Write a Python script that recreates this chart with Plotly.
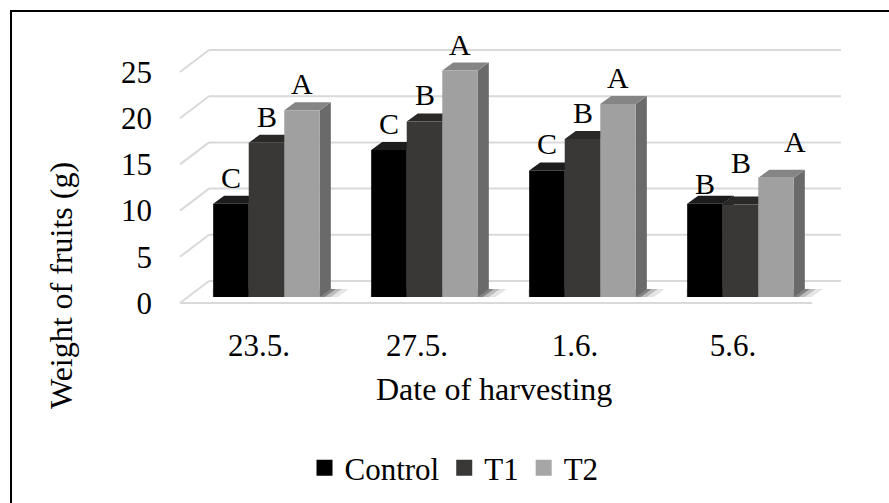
import plotly.graph_objects as go

# ---- data ----
dates = ["23.5.", "27.5.", "1.6.", "5.6."]
control = [10.1, 15.9, 13.7, 10.1]
t1 = [16.7, 19.0, 17.1, 10.0]
t2 = [20.2, 24.5, 20.9, 12.9]
control_letters = ["C", "C", "C", "B"]
t1_letters = ["B", "B", "B", "B"]
t2_letters = ["A", "A", "A", "A"]
y_ticks = [0, 5, 10, 15, 20, 25]

series_names = ["Control", "T1", "T2"]
series_values = [control, t1, t2]
series_letters = [control_letters, t1_letters, t2_letters]

# ---- styles / geometry ----
W, H = 889, 503
FONT = "Liberation Serif"
front_col = ["#000000", "#3a3836", "#a0a0a0"]
top_col = ["#1c1c1c", "#2a2927", "#858585"]
side_col = ["#0a0a0a", "#2c2b29", "#6a6a6a"]
legend_col = ["#000000", "#3a3836", "#a6a6a6"]

# pixel geometry of the plot area
L_PX, R_PX, T_PX, B_PX = 175, 850, 30, 310
PX0, PXU = 259.0, 158.0      # px of category 0, px per category
PY0, PYU = 303.0, 9.24       # px of value 0 (front), px per unit
xr = [(L_PX - PX0) / PXU, (R_PX - PX0) / PXU]
yr = [(PY0 - B_PX) / PYU, (PY0 - T_PX) / PYU]

DX = 29 / PXU      # depth offset of back wall
DY = 22 / PYU
B0 = 6 / PYU       # bar base (bars sit a bit behind the floor front edge)
DXB = 11 / PXU     # bar depth
DYB = 8 / PYU
BW = 0.225
offsets = [-0.29, -0.065, 0.16]
FL, FR = -0.5, 3.5  # floor extent in category units

# label shifts (px) for hand-placed letters: (series, group) -> (dx, dy)
label_shift = {(0, 3): (0, -6), (1, 3): (0, 16), (2, 3): (19, 10)}


def px_x(p):
    return (p - L_PX) / (R_PX - L_PX)


def px_y(p):
    return (B_PX - p) / (B_PX - T_PX)


fig = go.Figure()
shapes = []

# back wall gridlines and left diagonals
gc = "#d9d9d9"
for v in y_ticks:
    shapes.append(dict(type="line", xref="x", yref="y", x0=FL + DX, x1=FR + DX,
                       y0=v + DY, y1=v + DY, line=dict(color=gc, width=2), layer="below"))
    shapes.append(dict(type="line", xref="x", yref="y", x0=FL, x1=FL + DX,
                       y0=v, y1=v + DY, line=dict(color=gc, width=2), layer="below"))
# floor front edge
shapes.append(dict(type="line", xref="x", yref="y", x0=FL, x1=FR, y0=0, y1=0,
                   line=dict(color=gc, width=2), layer="below"))

# floor shadows
for i in range(len(dates)):
    gl = i + offsets[0]
    gr = i + offsets[2] + BW + DXB
    for pad_l, pad_r, op in [(12, 18, 0.10), (7, 11, 0.18), (3, 5, 0.30)]:
        a = gl - pad_l / PXU
        b = gr + pad_r / PXU
        shapes.append(dict(type="path", xref="x", yref="y", layer="below",
                           path=f"M{a + DXB},{B0} L{b - DXB},{B0} L{b},{B0 + DYB} L{a + DXB},{B0 + DYB} Z",
                           fillcolor=f"rgba(0,0,0,{op})", line=dict(width=0)))

# top and side faces of bars
for s, vals in enumerate(series_values):
    for i, v in enumerate(vals):
        x0 = i + offsets[s]
        x1 = x0 + BW
        T = B0 + v
        shapes.append(dict(type="path", xref="x", yref="y", layer="below",
                           path=f"M{x1},{B0} L{x1},{T} L{x1 + DXB},{T + DYB} L{x1 + DXB},{B0 + DYB} Z",
                           fillcolor=side_col[s], line=dict(width=0)))
        shapes.append(dict(type="path", xref="x", yref="y", layer="below",
                           path=f"M{x0},{T} L{x1},{T} L{x1 + DXB},{T + DYB} L{x0 + DXB},{T + DYB} Z",
                           fillcolor=top_col[s], line=dict(width=0)))

# outer border: only left and top edges fall inside the picture
shapes.append(dict(type="line", xref="paper", yref="paper", x0=px_x(11), x1=px_x(11),
                   y0=px_y(H + 20), y1=px_y(10), line=dict(color="black", width=2)))
shapes.append(dict(type="line", xref="paper", yref="paper", x0=px_x(10), x1=px_x(W + 20),
                   y0=px_y(11), y1=px_y(11), line=dict(color="black", width=2)))

# front faces (bars)
for s, (name, vals) in enumerate(zip(series_names, series_values)):
    fig.add_trace(go.Bar(x=list(range(len(dates))), y=vals, base=B0, width=BW,
                         offset=offsets[s], marker=dict(color=front_col[s], line=dict(width=0)),
                         name=name, showlegend=False, hoverinfo="skip"))
    fig.add_trace(go.Scatter(x=[None], y=[None], mode="markers", name=name,
                             marker=dict(symbol="square", size=16, color=legend_col[s])))

# letters
annotations = []
for s, (vals, letters) in enumerate(zip(series_values, series_letters)):
    for i, (v, lt) in enumerate(zip(vals, letters)):
        dx, dy = label_shift.get((s, i), (0, 0))
        annotations.append(dict(x=i + offsets[s] + BW / 2, y=B0 + v + DYB, xref="x", yref="y",
                                text=lt, showarrow=False, yanchor="bottom", xanchor="center",
                                xshift=dx, yshift=dy, font=dict(family=FONT, size=30, color="black")))

annotations.append(dict(x=px_x(494), y=px_y(389), xref="paper", yref="paper",
                        xanchor="center", yanchor="middle",
                        text="Date of harvesting", showarrow=False,
                        font=dict(family=FONT, size=32, color="black")))
annotations.append(dict(x=px_x(61), y=px_y(286), xref="paper", yref="paper",
                        xanchor="center", yanchor="middle",
                        text="Weight of fruits (g)", textangle=-90, showarrow=False,
                        font=dict(family=FONT, size=32, color="black")))

fig.update_layout(
    width=W, height=H,
    margin=dict(l=L_PX, r=W - R_PX, t=T_PX, b=H - B_PX, autoexpand=False),
    paper_bgcolor="white", plot_bgcolor="white",
    font=dict(family=FONT, size=31, color="black"),
    shapes=shapes, annotations=annotations,
    barmode="overlay",
    xaxis=dict(range=xr, tickvals=list(range(len(dates))), ticktext=dates, showgrid=False,
               zeroline=False, showline=False, ticks="", ticklabelstandoff=14,
               tickfont=dict(family=FONT, size=31), fixedrange=True),
    yaxis=dict(range=yr, tickvals=y_ticks, showgrid=False, zeroline=False, showline=False,
               ticks="", ticklabelstandoff=22, tickfont=dict(family=FONT, size=31), fixedrange=True),
    legend=dict(orientation="h", x=px_x(454), y=px_y(468), xanchor="center", yanchor="middle",
                font=dict(family=FONT, size=31), bgcolor="rgba(0,0,0,0)", itemclick=False,
                tracegroupgap=0),
    showlegend=True,
)

fig.write_html(
    "out.html",
    config={"displayModeBar": False},
    post_script="document.body.style.margin='0';document.documentElement.style.overflow='hidden';",
)
